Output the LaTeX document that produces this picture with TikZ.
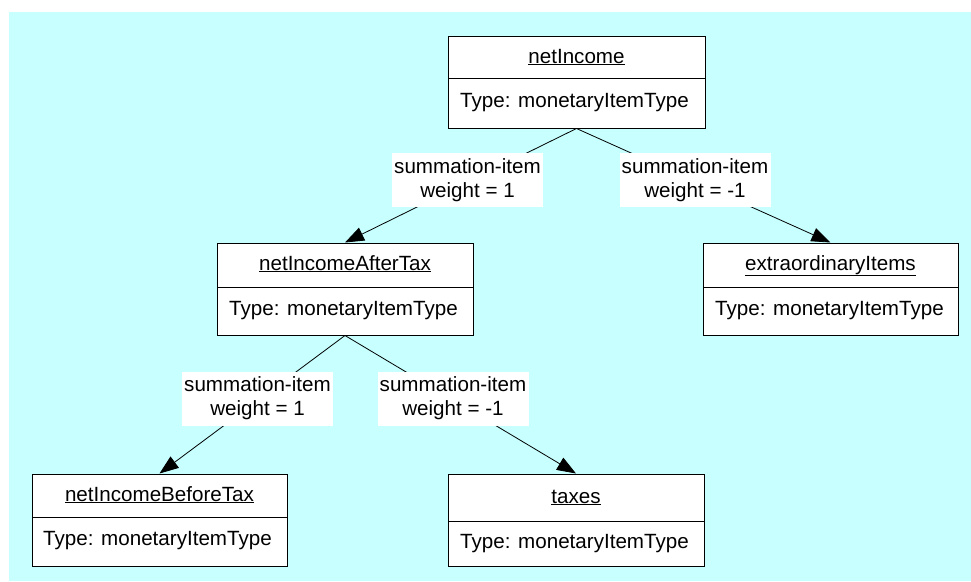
\documentclass[tikz,border=0pt]{standalone}
\usepackage{fontspec}
\setmainfont{Liberation Sans}
\usetikzlibrary{arrows.meta}
\definecolor{canvas}{RGB}{200,255,255}
\tikzset{
  umlbox/.style={draw=black, line width=1pt, fill=white, inner sep=0pt, minimum height=92pt},
  title/.style={anchor=base, inner sep=0pt, font=\fontsize{20.6}{24}\selectfont},
  typetext/.style={anchor=base west, inner sep=0pt, font=\fontsize{20.6}{24}\selectfont},
  divider/.style={draw=black, line width=1pt},
  edgelabel/.style={fill=white, inner sep=0pt, minimum width=151pt, minimum height=54pt,
    align=center, font=\fontsize{20.6}{24}\selectfont},
  link/.style={draw=black, line width=0.8pt, -{Triangle[length=19pt,width=14pt]}}
}
\begin{document}
\begin{tikzpicture}[x=1pt,y=-1pt]
\useasboundingbox (0,0) rectangle (971,581);
\fill[canvas] (9,12) rectangle (971,581);

% class boxes: frame, divider, name, type
\node[umlbox, minimum width=257pt] (ni) at (576.5,82) {};
\draw[divider] (448,78) -- (705,78);
\node[title] (niname) at (576.5,63) {\underline{netIncome}};
\node[typetext] (nitype) at (460,107) {Type: monetaryItemType};

\node[umlbox, minimum width=256pt] (nat) at (345,289) {};
\draw[divider] (217,287) -- (473,287);
\node[title] (natname) at (345,270) {\underline{netIncomeAfterTax}};
\node[typetext] (nattype) at (229,315) {Type: monetaryItemType};

\node[umlbox, minimum width=255pt] (ext) at (830.5,289) {};
\draw[divider] (703,287) -- (958,287);
\node[title] (extname) at (830.5,270) {\underline{extraordinaryItems}};
\node[typetext] (exttype) at (715,315) {Type: monetaryItemType};

\node[umlbox, minimum width=255pt] (nbt) at (159.5,520) {};
\draw[divider] (32,517) -- (287,517);
\node[title] (nbtname) at (159.5,501) {\underline{netIncomeBeforeTax}};
\node[typetext] (nbttype) at (43,545) {Type: monetaryItemType};

\node[umlbox, minimum width=256pt] (tax) at (576,520) {};
\draw[divider] (448,521) -- (704,521);
\node[title] (taxname) at (576,503) {\underline{taxes}};
\node[typetext] (taxtype) at (460,548) {Type: monetaryItemType};

% summation arcs
\draw[link] (ni.south) -- (nat.north);
\draw[link] (ni.south) -- (ext.north);
\draw[link] (nat.south) -- (nbt.north);
\draw[link] (nat.south) -- (tax.north);

% arc labels
\node[edgelabel] (l1) at (467.5,180) {summation-item\\weight = 1};
\node[edgelabel] (l2) at (695,180) {summation-item\\weight = -1};
\node[edgelabel] (l3) at (257.5,398.5) {summation-item\\weight = 1};
\node[edgelabel] (l4) at (453,398.5) {summation-item\\weight = -1};
\end{tikzpicture}
\end{document}
